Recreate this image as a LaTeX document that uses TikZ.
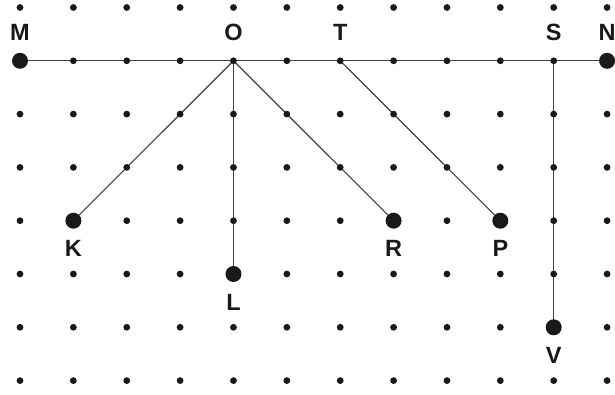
\documentclass[tikz,border=0pt]{standalone}
\usepackage{fontspec}
\setmainfont{Liberation Sans}
\begin{document}
\begin{tikzpicture}[x=1pt,y=1pt,
  smalldot/.style={circle,fill=black!90,inner sep=0pt,minimum size=6.8pt},
  bigdot/.style={circle,fill=black!90,inner sep=0pt,minimum size=16pt},
  seg/.style={line width=1.15pt,draw=black!75},
  lab/.style={font=\fontsize{23.5}{23.5}\selectfont\bfseries,text=black!90,inner sep=0pt}]
\useasboundingbox (0,0) rectangle (615,-395);
\def\gx#1{20+53.37*#1}
\def\gy#1{-7.5-53.3*#1}
\coordinate (cM) at ({\gx{0}},{\gy{1}});
\coordinate (cN) at ({\gx{11}},{\gy{1}});
\coordinate (cO) at ({\gx{4}},{\gy{1}});
\coordinate (cT) at ({\gx{6}},{\gy{1}});
\coordinate (cS) at ({\gx{10}},{\gy{1}});
\coordinate (cK) at ({\gx{1}},{\gy{4}});
\coordinate (cL) at ({\gx{4}},{\gy{5}});
\coordinate (cR) at ({\gx{7}},{\gy{4}});
\coordinate (cP) at ({\gx{9}},{\gy{4}});
\coordinate (cV) at ({\gx{10}},{\gy{6}});
\draw[seg] (cM) -- (cN);
\draw[seg] (cO) -- (cK);
\draw[seg] (cO) -- (cL);
\draw[seg] (cO) -- (cR);
\draw[seg] (cT) -- (cP);
\draw[seg] (cS) -- (cV);
\foreach \i in {0,...,11}{
  \foreach \j in {0,...,7}{
    \node[smalldot] (d\i-\j) at ({\gx{\i}},{\gy{\j}}) {};
  }
}
\node[bigdot] (M) at (cM) {};
\node[bigdot] (N) at (cN) {};
\node[bigdot] (K) at (cK) {};
\node[bigdot] (L) at (cL) {};
\node[bigdot] (R) at (cR) {};
\node[bigdot] (P) at (cP) {};
\node[bigdot] (V) at (cV) {};
\node[lab] (lM) at ([yshift=28pt]cM) {M};
\node[lab] (lO) at ([yshift=28pt]cO) {O};
\node[lab] (lT) at ([yshift=28pt]cT) {T};
\node[lab] (lS) at ([yshift=28pt]cS) {S};
\node[lab] (lN) at ([yshift=28pt]cN) {N};
\node[lab] (lK) at ([yshift=-28pt]cK) {K};
\node[lab] (lL) at ([yshift=-28pt]cL) {L};
\node[lab] (lR) at ([yshift=-28pt]cR) {R};
\node[lab] (lP) at ([yshift=-28pt]cP) {P};
\node[lab] (lV) at ([yshift=-28pt]cV) {V};
\end{tikzpicture}
\end{document}
